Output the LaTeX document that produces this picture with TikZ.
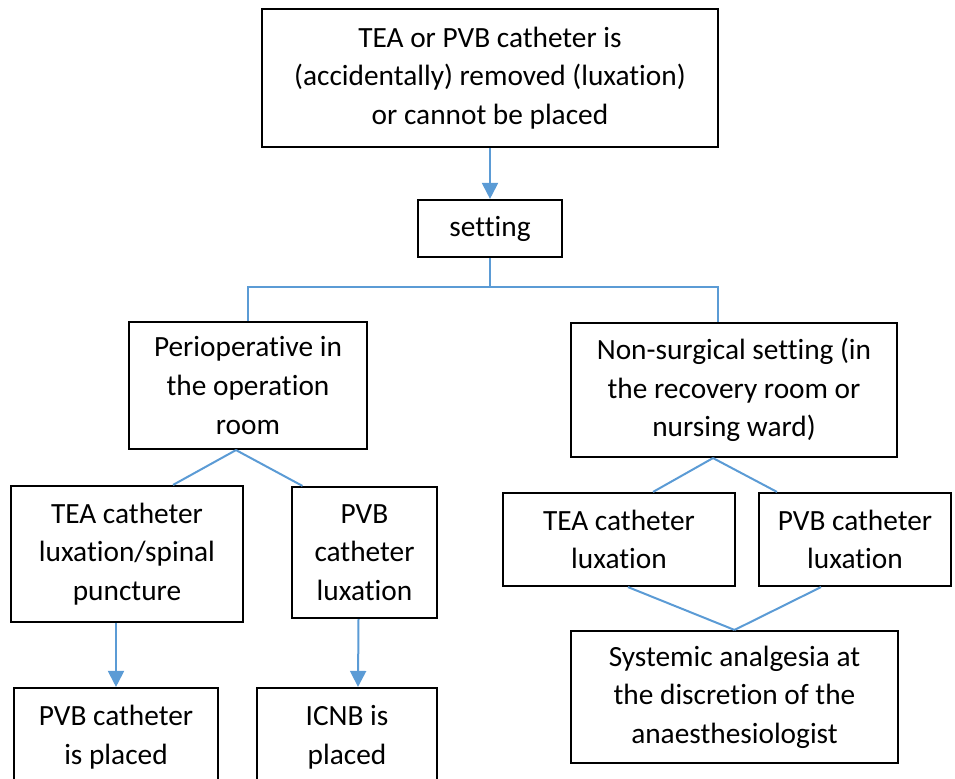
\documentclass[tikz,border=0pt]{standalone}
\usepackage{fontspec}
\setmainfont{Carlito}[Ligatures=NoCommon]
\usetikzlibrary{arrows.meta,calc}
\definecolor{linkblue}{HTML}{5B9BD5}

\begin{document}
\begin{tikzpicture}[
  x=0.75pt, y=-0.75pt,
  font=\fontsize{22}{29}\selectfont,
  box/.style={draw,line width=1.6pt,align=center,inner sep=0pt},
  link/.style={linkblue,line width=1.5pt},
  flow/.style={link,-{Triangle[length=12pt,width=12pt]}}
]
  \clip (0,0) rectangle (955,778);

  % start and setting
  \node[box,minimum width=342pt,minimum height=103.5pt] (start) at (490,78)
    {TEA or PVB catheter is\\(accidentally) removed (luxation)\\or cannot be placed};
  \node[box,minimum width=108pt,minimum height=42.75pt] (setting) at (490,228.5) {setting};
  \draw[flow] (start) -- (setting);
  \coordinate (split) at (490,287);
  \draw[link] (setting) -- (split);

  % perioperative branch
  \node[box,minimum width=178.5pt,minimum height=95.25pt] (periop) at (248,385.5)
    {Perioperative in\\the operation\\room};
  \node[box,minimum width=174pt,minimum height=102pt] (teaL) at (127,554)
    {TEA catheter\\luxation/spinal\\puncture};
  \node[box,minimum width=108.75pt,minimum height=98.25pt] (pvbL) at (364.5,552.5)
    {PVB\\catheter\\luxation};
  \node[box,minimum width=153pt,minimum height=73.5pt] (pvbPlaced) at (116,737)
    {PVB catheter\\is placed};
  \node[box,minimum width=135pt,minimum height=73.5pt] (icnb) at (347,737)
    {ICNB is\\placed};
  \draw[link] (split) -| (periop.north);
  \draw[link] ($(periop.south)+(-12,0)$) -- ($(teaL.north)+(46,0)$);
  \draw[link] ($(periop.south)+(-12,0)$) -- ($(pvbL.north)+(-62,0)$);
  \draw[flow] (teaL.south -| pvbPlaced.north) -- (pvbPlaced.north);
  \draw[flow] ($(pvbL.south)+(-6,0)$) -- ($(icnb.north)+(11,0)$);

  % non-surgical branch
  \node[box,minimum width=244.5pt,minimum height=100.5pt] (nonsurg) at (734,390)
    {Non-surgical setting (in\\the recovery room or\\nursing ward)};
  \node[box,minimum width=174pt,minimum height=69.75pt] (teaR) at (619,539.5)
    {TEA catheter\\luxation};
  \node[box,minimum width=144pt,minimum height=69.75pt] (pvbR) at (855,539.5)
    {PVB catheter\\luxation};
  \node[box,minimum width=245.25pt,minimum height=99pt] (sys) at (734.5,697)
    {Systemic analgesia at\\the discretion of the\\anaesthesiologist};
  \draw[link] (split) -| ($(nonsurg.north)+(-16,0)$);
  \draw[link] ($(nonsurg.south)+(-21,0)$) -- ($(teaR.north)+(34,0)$);
  \draw[link] ($(nonsurg.south)+(-21,0)$) -- ($(pvbR.north)+(-78,0)$);
  \draw[link] ($(teaR.south)+(9,0)$) -- (sys.north);
  \draw[link] ($(pvbR.south)+(-34,0)$) -- (sys.north);
\end{tikzpicture}
\end{document}
